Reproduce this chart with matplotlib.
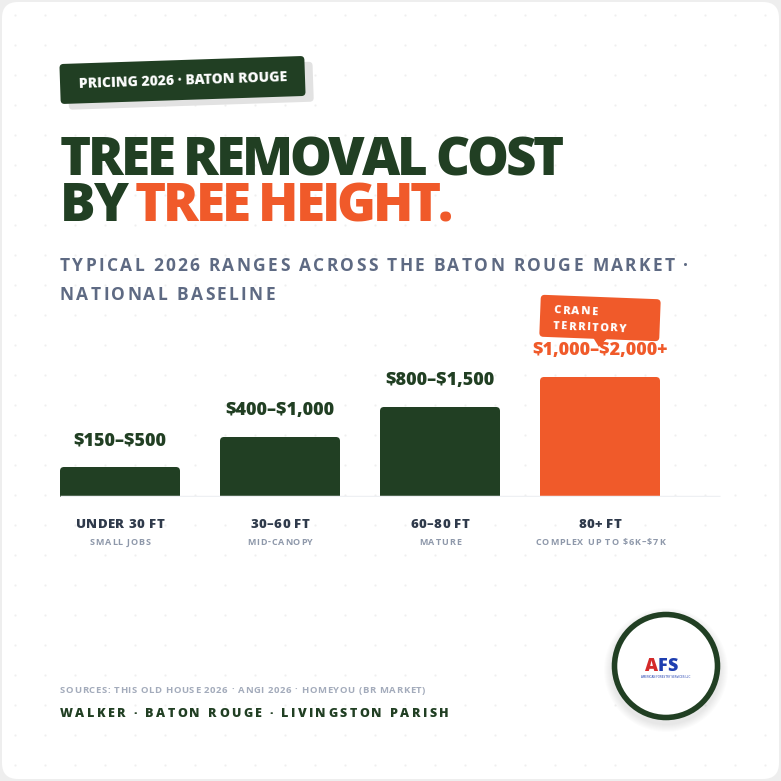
import numpy as np
import matplotlib.pyplot as plt
from matplotlib.patches import FancyBboxPatch, Rectangle, Circle, Polygon
import matplotlib.transforms as mtransforms
from matplotlib import font_manager as fm

W = H = 781

categories = ["UNDER 30 FT", "30–60 FT", "60–80 FT", "80+ FT"]
notes = ["SMALL JOBS", "MID-CANOPY", "MATURE", "COMPLEX UP TO $6K–$7K"]
low = [150, 400, 800, 1000]
high = [500, 1000, 1500, 2000]
range_labels = ["$150–$500", "$400–$1,000", "$800–$1,500", "$1,000–$2,000+"]
highlight = [False, False, False, True]

GREEN = "#213f23"
ORANGE = "#f05a2a"
SLATE = "#5e6a83"
DARK = "#2f3a4b"
MUTED = "#8e98aa"

# pick a family that has a black / extra bold face installed
heavy_fams = {f.name for f in fm.fontManager.ttflist
              if isinstance(f.weight, int) and f.weight >= 800}
HEAVY = next((n for n in ["Open Sans", "Lato", "Roboto", "Inter", "Noto Sans"]
              if n in heavy_fams), "DejaVu Sans")

fig = plt.figure(figsize=(7.81, 7.81), dpi=100)
fig.patch.set_facecolor("#eeeeee")

# background axes in pixel units, y going down
bg = fig.add_axes([0, 0, 1, 1], zorder=0)
bg.set_xlim(0, W)
bg.set_ylim(H, 0)
bg.axis("off")
P = bg.transData

bg.add_patch(FancyBboxPatch((2, 2), W - 4, H - 4, boxstyle="round,pad=0,rounding_size=16",
                            fc="white", ec="none", zorder=0))
gx, gy = np.meshgrid(np.arange(15, W, 30), np.arange(15, H, 30))
bg.scatter(gx.ravel(), gy.ravel(), s=2.5, color="#efefef", lw=0, zorder=1)

r = fig.canvas.get_renderer()


def text_w(s, **kw):
    t = fig.text(0, 0, s, **kw)
    w = t.get_window_extent(r).width
    t.remove()
    return w


def spaced(x, y, parts, track=0.0, ha="left", zorder=5, **kw):
    # draw text char by char so letter spacing can be set
    chars = [(c, col) for s, col in parts for c in s]
    base = text_w("II", **kw)
    adv = [text_w("I" + c + "I", **kw) - base for c, _ in chars]
    total = sum(adv) + track * (len(chars) - 1)
    if ha == "center":
        x -= total / 2
    for (c, col), a in zip(chars, adv):
        fig.text(x / W, 1 - y / H, c, color=col, va="baseline", ha="left", zorder=zorder, **kw)
        x += a + track


# --- tag ---
rot = mtransforms.Affine2D().rotate_deg_around(182, 80, -1.9) + P
bg.add_patch(FancyBboxPatch((68, 66), 245, 40, boxstyle="round,pad=0,rounding_size=4",
                            fc="#e2e2e2", ec="none", transform=rot, zorder=2))
bg.add_patch(FancyBboxPatch((60, 60), 245, 40, boxstyle="round,pad=0,rounding_size=4",
                            fc=GREEN, ec="none", transform=rot, zorder=3))
bg.text(183, 81, "PRICING 2026 · BATON ROUGE", color="white", fontsize=10, fontweight=800,
        family=HEAVY, ha="center", va="center", rotation=1.9, rotation_mode="anchor", zorder=4)

# --- title ---
tkw = dict(fontsize=38, fontweight=900, family=HEAVY)
spaced(60, 175, [("TREE REMOVAL COST", GREEN)], track=-3.1, **tkw)
spaced(60, 221, [("BY ", GREEN), ("TREE HEIGHT.", ORANGE)], track=-3.1, **tkw)

# --- subtitle ---
skw = dict(fontsize=12.5, fontweight="bold", family="Open Sans")
spaced(60, 271, [("TYPICAL 2026 RANGES ACROSS THE BATON ROUGE MARKET ·", SLATE)], track=2.3, **skw)
spaced(60, 300, [("NATIONAL BASELINE", SLATE)], track=2.3, **skw)

# --- chart ---
ax = fig.add_axes([40 / W, (H - 497) / H, 700 / W, 200 / H], zorder=2)
ax.set_xlim(-0.5, 3.875)
ax.set_ylim(0, 2000 * 200 / 120)
ax.axis("off")

x = np.arange(len(categories))
colors = [ORANGE if h else GREEN for h in highlight]
bars = ax.bar(x, high, width=0.75, color=colors)
for b, c in zip(bars, colors):
    b.set_visible(False)
    x0, w, h = b.get_x(), b.get_width(), b.get_height()
    ax.add_patch(FancyBboxPatch((x0, 0), w, h, boxstyle="round,pad=0,rounding_size=0.025",
                                mutation_aspect=2667, fc=c, ec="none"))
    ax.add_patch(Rectangle((x0, 0), w, h / 2, fc=c, ec="none"))
ax.plot([-0.375, 3.75], [0, 0], color="#eef0f3", lw=2.5, solid_capstyle="butt", zorder=3)

for i, (lab, h, c) in enumerate(zip(range_labels, high, colors)):
    ax.annotate(lab.replace("$", r"\$"), (i, h), xytext=(0, 22), textcoords="offset pixels",
                ha="center", va="baseline", color=c, fontsize=13, fontweight=900,
                family=HEAVY, zorder=6)

for i, (cat, note) in enumerate(zip(categories, notes)):
    dx, dy = ax.transData.transform((i, 0))
    spaced(dx, H - dy + 31, [(cat, DARK)], track=0.4, ha="center",
           fontsize=9.5, fontweight=800, family=HEAVY)
    spaced(dx, H - dy + 48, [(note, MUTED)], track=0.9, ha="center",
           fontsize=6.5, fontweight="bold", family="Open Sans")

# --- crane tag ---
rot2 = mtransforms.Affine2D().rotate_deg_around(600, 318, 2.2) + P
bg.add_patch(FancyBboxPatch((540, 297), 120, 42, boxstyle="round,pad=0,rounding_size=4",
                            fc=ORANGE, ec="none", transform=rot2, zorder=7))
bg.add_patch(Polygon([(594, 338), (608, 338), (600, 347)], closed=True, fc=ORANGE, ec="none",
                     transform=rot2, zorder=7))
ckw = dict(fontsize=8, fontweight=800, family=HEAVY, color="white")
base = text_w("II", **ckw)
for yy, word in [(315, "CRANE"), (331, "TERRITORY")]:
    xx = 553
    for ch in word:
        px, py = rot2.transform((xx, yy))
        fig.text(px / W, py / H, ch, va="baseline", ha="left",
                 rotation=-2.2, rotation_mode="anchor", zorder=8, **ckw)
        xx += text_w("I" + ch + "I", **ckw) - base + 1.4

# --- logo ---
for k in range(8):
    bg.add_patch(Circle((666, 670), 54 + 8 - k, fc="black", alpha=0.012, ec="none", zorder=2))
bg.add_patch(Circle((666, 666), 51.5, fc="white", ec=GREEN, lw=4, zorder=3))
spaced(645, 671, [("A", "#d42a2a"), ("FS", "#1f3fb0")], track=-0.5,
       fontsize=13, fontweight=900, family=HEAVY)
bg.text(666, 677, "AMERICAN FORESTRY SERVICES LLC", fontsize=2, color="#1f3fb0", ha="center",
        va="center", zorder=5)

# --- footer ---
spaced(60, 693, [("SOURCES: THIS OLD HOUSE 2026 · ANGI 2026 · HOMEYOU (BR MARKET)", "#a3abbb")],
       track=0.62, fontsize=6.8, fontweight="bold", family="Open Sans")
spaced(60, 717, [("WALKER · BATON ROUGE · LIVINGSTON PARISH", GREEN)],
       track=2.4, fontsize=9, fontweight=800, family=HEAVY)

fig.savefig("out.png", dpi=100, facecolor=fig.get_facecolor())
